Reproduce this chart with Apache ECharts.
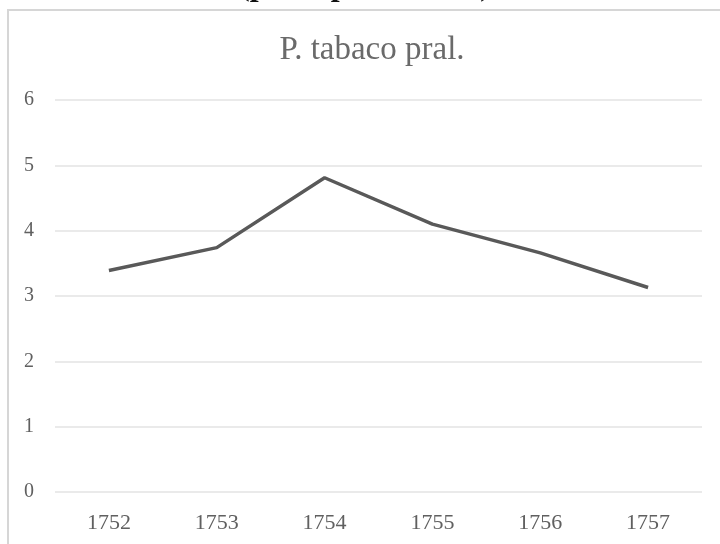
<!DOCTYPE html>
<html>
<head>
<meta charset="utf-8">
<style>
  html, body { margin: 0; padding: 0; background: #ffffff; }
  #chart { width: 720px; height: 544px; }
</style>
<script src="https://cdn.jsdelivr.net/npm/echarts@6/dist/echarts.min.js"></script>
</head>
<body>
<div id="chart"></div>
<script>
// Tobacco price series, 1752–1757
const years = ['1752', '1753', '1754', '1755', '1756', '1757'];
const prices = [3.39, 3.74, 4.81, 4.10, 3.66, 3.13];
const yTicks = [0, 1, 2, 3, 4, 5, 6];

const serif = '"Liberation Serif", "Times New Roman", "DejaVu Serif", serif';
const ink = '#595959';

const chart = echarts.init(document.getElementById('chart'), null, { renderer: 'canvas' });

chart.setOption({
  backgroundColor: '#ffffff',
  animation: false,
  title: {
    text: 'P. tabaco pral.',
    left: 367,
    top: 29,
    textAlign: 'center',
    textStyle: { fontFamily: serif, fontSize: 33, fontWeight: 'normal', color: '#6a6a6a' }
  },
  grid: { left: 55, right: 18, top: 100, bottom: 52, containLabel: false },
  xAxis: {
    type: 'category',
    data: years,
    boundaryGap: true,
    axisLine: { show: false },
    axisTick: { show: false },
    axisLabel: { fontFamily: serif, fontSize: 22, color: '#606060', margin: 20 }
  },
  yAxis: {
    type: 'value',
    min: yTicks[0],
    max: yTicks[yTicks.length - 1],
    interval: 1,
    axisLine: { show: false },
    axisTick: { show: false },
    axisLabel: { fontFamily: serif, fontSize: 20, color: '#606060', margin: 21 },
    splitLine: { lineStyle: { color: '#e3e3e3', width: 1.5 } }
  },
  series: [{
    type: 'line',
    data: prices,
    symbol: 'none',
    lineStyle: { color: ink, width: 3.5 },
    z: 5
  }],
  graphic: [
    {
      // outer chart frame
      type: 'rect',
      z: -1,
      shape: { x: 8, y: 10, width: 800, height: 600 },
      style: { fill: 'none', stroke: '#d6d6d6', lineWidth: 2 }
    },
    {
      // caption line above the frame (mostly off the top edge)
      type: 'text',
      x: 365,
      y: 2.5,
      style: {
        text: '(pesos por arroba)',
        fontFamily: serif,
        fontSize: 32,
        fontWeight: 'bold',
        fill: '#111111',
        align: 'center',
        verticalAlign: 'bottom'
      }
    }
  ]
});
</script>
</body>
</html>
